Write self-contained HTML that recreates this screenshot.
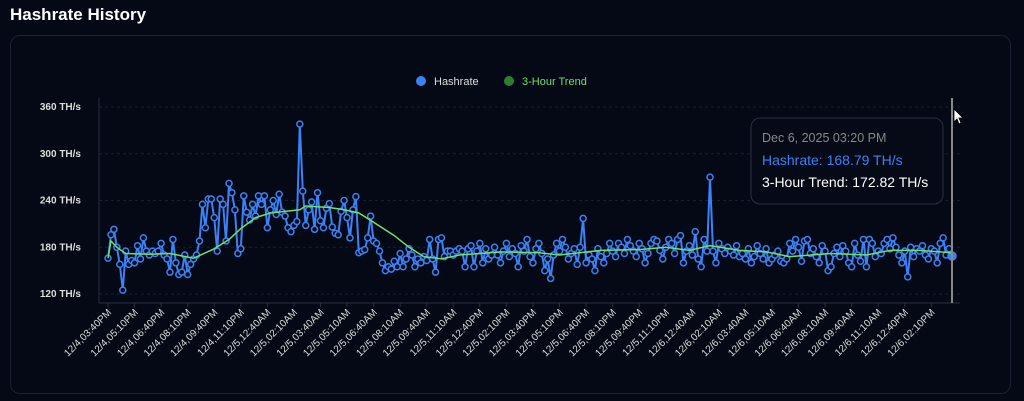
<!DOCTYPE html>
<html><head><meta charset="utf-8"><style>
body{margin:0;width:1024px;height:401px;background:#040915;overflow:hidden;font-family:"Liberation Sans",sans-serif}
#title{position:absolute;left:10px;top:5px;color:#fff;font-weight:bold;font-size:17px}
#card{position:absolute;left:10px;top:35px;width:1001px;height:359px;border:1px solid #1c2233;border-radius:10px;box-sizing:border-box}
svg{position:absolute;left:0;top:0}
</style></head><body>
<div id="title">Hashrate History</div>
<div id="card"></div>
<svg id="chart" width="1024" height="401"></svg>
<script>
const hashrate=[166,196,203,180,158,125,175,158,163,160,182,165,192,175,170,175,172,175,185,170,165,148,190,160,145,148,170,145,158,165,170,188,235,205,242,242,218,175,242,235,188,262,250,228,172,178,246,225,215,235,220,246,235,246,205,228,240,222,248,225,220,205,200,208,213,338,252,208,228,238,203,250,214,205,230,236,206,198,196,226,240,218,192,228,245,173,175,177,192,220,188,185,175,160,150,155,152,162,155,172,155,165,178,170,155,165,160,168,163,190,165,148,190,192,168,175,175,170,175,178,175,155,178,182,155,175,185,160,178,165,170,
180,170,160,175,185,168,178,172,155,182,175,190,168,160,178,185,172,150,165,140,170,185,175,190,180,165,172,178,158,180,217,160,170,165,150,178,168,160,172,185,175,168,185,180,172,190,182,175,168,185,178,160,172,185,190,188,176,165,180,190,185,172,190,195,160,175,182,170,200,165,155,190,175,270,175,160,185,178,172,180,175,170,182,168,172,165,178,160,168,182,172,165,178,160,165,170,175,162,160,165,185,175,190,180,162,188,190,172,178,168,160,182,175,150,155,172,180,168,182,175,160,155,185,170,162,190,155,190,185,168,175,172,185,190,178,192,180,170,160,175,142,180,168,178,175,182,170,165,178,175,160,185,192,170,178,168.79];
const trendIdx=[0,1,3,6,14,21,29,36,41,45,50,55,60,65,67,75,80,85,90,97,102,107,113,119,126,133,146,153,167,180,189,197,204,214,223,231,245,257,265,275,286];
const trendVal=[166,188,180,172,171,172,166,178,190,204,218,224,226,228,233,231,228,224,212,195,180,168,165,170,172,174,173,170,176,177,180,176,182,176,174,168,172,170,176,176,172.82];
const yTicks=[120,180,240,300,360];
const xLabels=["12/4,03:40PM","12/4,05:10PM","12/4,06:40PM","12/4,08:10PM","12/4,09:40PM","12/4,11:10PM","12/5,12:40AM","12/5,02:10AM","12/5,03:40AM","12/5,05:10AM","12/5,06:40AM","12/5,08:10AM","12/5,09:40AM","12/5,11:10AM","12/5,12:40PM","12/5,02:10PM","12/5,03:40PM","12/5,05:10PM","12/5,06:40PM","12/5,08:10PM","12/5,09:40PM","12/5,11:10PM","12/6,12:40AM","12/6,02:10AM","12/6,03:40AM","12/6,05:10AM","12/6,06:40AM","12/6,08:10AM","12/6,09:40AM","12/6,11:10AM","12/6,12:40PM","12/6,02:10PM"];
const NS="http://www.w3.org/2000/svg",svg=document.getElementById('chart');
const x=i=>108+i*(952-108)/286;
const y=v=>294-(v-120)*(187/240);
function mk(t,a,p){const e=document.createElementNS(NS,t);for(const k in a)e.setAttribute(k,a[k]);(p||svg).appendChild(e);return e;}
yTicks.forEach(v=>{
 const g=mk('line',{x1:99,x2:960,y1:y(v),y2:y(v),stroke:'#1a2030','stroke-dasharray':'3,3'});
 
 const t=mk('text',{x:81,y:y(v)+3,'text-anchor':'end','font-size':'10','font-weight':'bold',fill:'#ddd'});t.textContent=v+' TH/s';
 
});
let ax=mk('line',{x1:99,x2:99,y1:98,y2:303,stroke:'#2a3040'});
ax=mk('line',{x1:99,x2:960,y1:303,y2:303,stroke:'#2a3040'});
xLabels.forEach((l,k)=>{
 const xx=x(k*9);
 mk('line',{x1:xx,x2:xx,y1:303,y2:307,stroke:'#2a3040'});
 const t=mk('text',{transform:`translate(${xx+4},313) rotate(-45)`,'text-anchor':'end','font-size':'10',fill:'#ddd'});t.textContent=l;
 
});
let hp=mk('path',{d:hashrate.map((v,i)=>(i?'L':'M')+x(i).toFixed(1)+','+y(v).toFixed(1)).join(''),fill:'none',stroke:'#3b82f6','stroke-width':2});

hashrate.forEach((v,i)=>{const c=mk('circle',{cx:x(i),cy:y(v),r:i==hashrate.length-1?4:3,fill:i==hashrate.length-1?'#3b82f6':'#040915',stroke:'#3b82f6','stroke-width':1.5});
 });
let tp=mk('path',{d:trendIdx.map((ix,k)=>(k?'L':'M')+x(ix).toFixed(1)+','+y(trendVal[k]).toFixed(1)).join(''),fill:'none',stroke:'#6ee06e','stroke-width':1.5});

let vl=mk('line',{x1:952,x2:952,y1:98,y2:303,stroke:'#888','stroke-width':2});
// legend
let c=mk('circle',{cx:421,cy:81,r:5,fill:'#3b82f6'});
let t=mk('text',{x:434,y:85,'font-size':'11',fill:'#ddd'});t.textContent='Hashrate';
c=mk('circle',{cx:509,cy:81,r:5,fill:'#2e7d32'});
t=mk('text',{x:522,y:85,'font-size':'11',fill:'#6ee06e'});t.textContent='3-Hour Trend';
// tooltip
let r=mk('rect',{x:751,y:118,width:192,height:86,rx:9,fill:'#050a16',stroke:'#2a3040'});
t=mk('text',{x:762,y:142,'font-size':'12.5',fill:'#888'});t.textContent='Dec 6, 2025 03:20 PM';
t=mk('text',{x:762,y:165,'font-size':'14',fill:'#3b82f6'});t.textContent='Hashrate: '+hashrate[hashrate.length-1].toFixed(2)+' TH/s';
t=mk('text',{x:762,y:187,'font-size':'14',fill:'#fff'});t.textContent='3-Hour Trend: '+trendVal[trendVal.length-1].toFixed(2)+' TH/s';
let cur=mk('path',{d:'M954,109 L954,122 L957,119 L959,124 L961,123 L959,118 L963,118 Z',fill:'#fff',stroke:'#000','stroke-width':0.8});
</script>
</body></html>
